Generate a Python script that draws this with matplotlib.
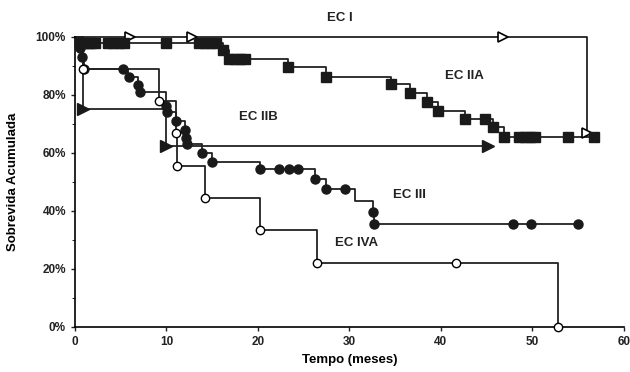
import matplotlib
matplotlib.use("Agg")
import matplotlib.pyplot as plt
import numpy as np

# ---- data (months, % survival) ----
ec1_t = [0, 56.0, 56.3]
ec1_s = [100, 66.7, 66.7]
ec1_cens_t = [6.0, 12.8, 46.8, 56.0]

ec2a_t = [0, 0.5, 16.2, 16.8, 23.3, 27.4, 34.6, 36.6, 38.5, 39.7, 42.7, 45.7, 46.9, 57.0]
ec2a_s = [100, 98, 95.5, 92.4, 89.7, 86.2, 83.8, 80.7, 77.6, 74.5, 71.7, 69.0, 65.5, 65.5]
ec2a_cens_t = [0.6, 1.0, 1.4, 1.8, 2.2, 3.6, 4.2, 4.8, 5.4, 10.0, 13.6, 14.2, 14.8, 15.4,
               16.2, 16.8, 17.5, 18.0, 18.6, 23.3, 27.4, 34.6, 36.6, 38.5, 39.7, 42.7,
               44.8, 45.7, 46.9, 48.6, 49.2, 49.8, 50.3, 53.9, 56.8]

ec2b_t = [0, 0.9, 10.0, 45.2]
ec2b_s = [100, 75.0, 62.5, 62.5]
ec2b_cens_t = [0.9, 10.0, 45.2]

ec3_t = [0, 0.5, 0.8, 1.0, 5.8, 6.9, 7.1, 9.9, 10.1, 11.0, 12.0, 12.1, 12.2, 13.9, 15.0,
         20.2, 26.2, 27.4, 30.6, 32.6, 32.7, 55.0]
ec3_s = [100, 96, 93, 89, 86, 83.5, 81, 76, 74, 71, 68, 65, 63, 60, 57,
         54.5, 51, 47.5, 43.5, 39.5, 35.5, 35.5]
ec3_cens_t = [0.5, 0.8, 1.0, 5.3, 5.9, 6.9, 7.1, 9.9, 10.1, 11.0, 12.0, 12.1, 12.2, 13.9, 15.0,
              20.2, 22.3, 23.4, 24.4, 26.2, 27.4, 29.5, 32.6, 32.7, 47.9, 49.9, 55.0]

ec4_t = [0, 0.9, 9.2, 11.1, 11.2, 14.2, 20.2, 26.5, 52.8]
ec4_s = [100, 88.9, 77.8, 66.7, 55.6, 44.4, 33.3, 22.2, 0.0]
ec4_cens_t = [0.9, 9.2, 11.1, 11.2, 14.2, 20.2, 26.5, 41.7, 52.8]

labels = ["EC I", "EC IIA", "EC IIB", "EC III", "EC IVA"]
label_pos = [(29.0, 106.5), (42.6, 86.5), (20.0, 72.5), (36.6, 45.5), (30.8, 29.0)]

xticks = [0, 10, 20, 30, 40, 50, 60]
yticks = [0, 20, 40, 60, 80, 100]
yticklabels = ["0%", "20%", "40%", "60%", "80%", "100%"]


def step_val(t, times, surv):
    idx = np.searchsorted(times, t, side="right") - 1
    return np.asarray(surv)[idx]


plt.rcParams['font.family'] = ['Liberation Sans', 'DejaVu Sans']
fig = plt.figure(figsize=(6.3, 3.72), dpi=100)
ax = fig.add_axes([0.119, 0.121, 0.871, 0.78])

series = [
    (ec1_t, ec1_s, ec1_cens_t, dict(marker='>', mfc='white', mec='black', ms=7, mew=1.2)),
    (ec2a_t, ec2a_s, ec2a_cens_t, dict(marker='s', mfc='#1a1a1a', mec='#1a1a1a', ms=7)),
    (ec2b_t, ec2b_s, ec2b_cens_t, dict(marker='>', mfc='#1a1a1a', mec='#1a1a1a', ms=8)),
    (ec3_t, ec3_s, ec3_cens_t, dict(marker='o', mfc='#1a1a1a', mec='#1a1a1a', ms=6.5)),
    (ec4_t, ec4_s, ec4_cens_t, dict(marker='o', mfc='white', mec='black', ms=6, mew=1.0)),
]

for t, s, ct, mk in series:
    ax.step(t, s, where='post', color='#222222', lw=1.3, clip_on=False, zorder=2)
    cy = step_val(np.array(ct), t, s)
    ax.plot(ct, cy, ls='none', clip_on=False, zorder=3, **mk)

for lab, (lx, ly) in zip(labels, label_pos):
    ax.text(lx, ly, lab, fontsize=9.5, fontweight='bold', ha='center', va='center', color='#222222')

ax.set_xlim(0, 60)
ax.set_ylim(0, 100)
ax.set_xticks(xticks)
ax.set_yticks(yticks)
ax.set_yticklabels(yticklabels)
ax.set_yticks([10, 30, 50, 70, 90], minor=True)
ax.tick_params(axis='both', labelsize=8.5, length=3, width=1, colors='#222222')
ax.tick_params(axis='y', which='minor', length=2)
for lbl in ax.get_xticklabels() + ax.get_yticklabels():
    lbl.set_fontweight('bold')
ax.spines['top'].set_visible(False)
ax.spines['right'].set_visible(False)
ax.spines['left'].set_linewidth(1.2)
ax.spines['bottom'].set_linewidth(1.2)

ax.set_xlabel("Tempo (meses)", fontsize=9.5, fontweight='bold', labelpad=4)
ax.set_ylabel("Sobrevida Acumulada", fontsize=9.5, fontweight='bold', labelpad=12)

fig.savefig("out.png", dpi=100)
